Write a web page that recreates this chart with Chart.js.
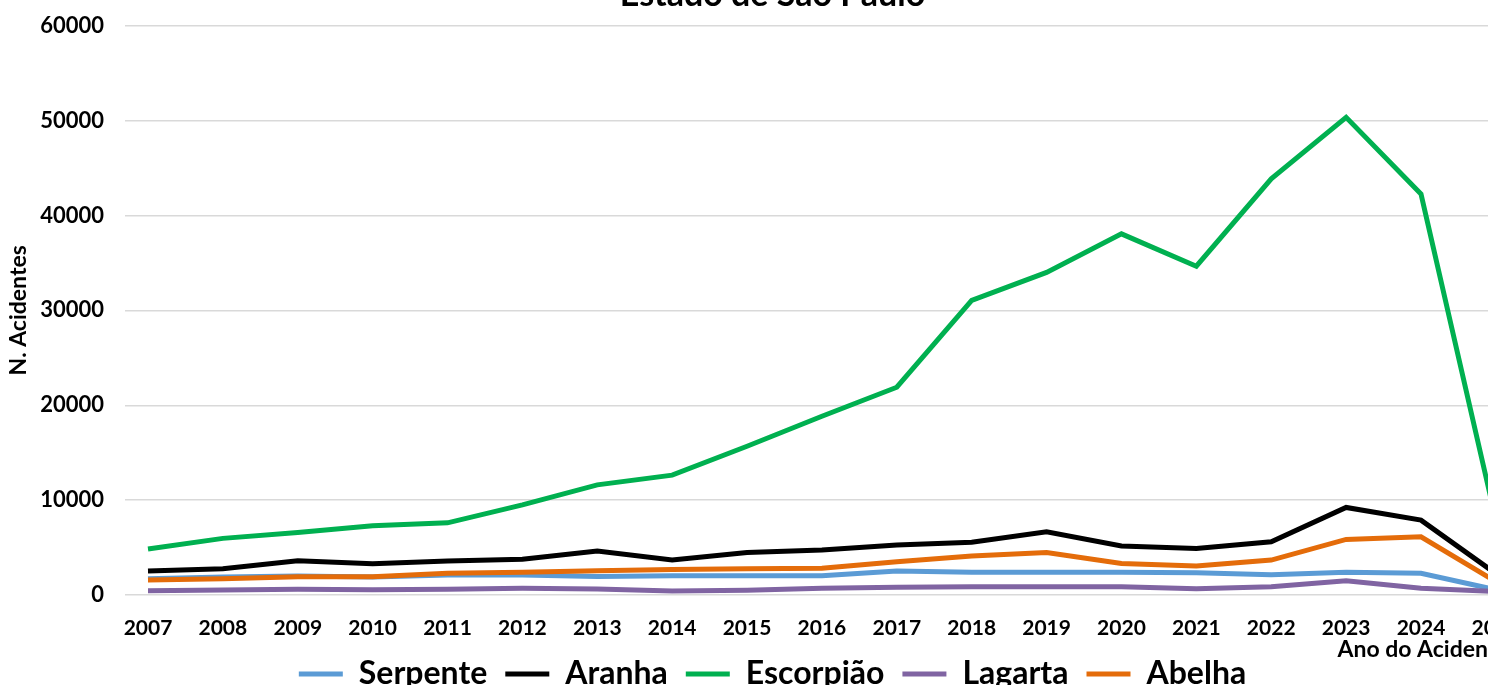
<!DOCTYPE html>
<html>
<head>
<meta charset="utf-8">
<script src="https://cdn.jsdelivr.net/npm/chart.js@4.4.1/dist/chart.umd.min.js"></script>
<style>
  body { margin: 0; overflow: hidden; background: #fff; }
  #wrap { position: absolute; left: 0; top: -30px; width: 1545px; height: 730px; }
</style>
</head>
<body>
<div id="wrap"><canvas id="grafico"></canvas></div>
<script>
// anos (eixo x)
var anos = [2007, 2008, 2009, 2010, 2011, 2012, 2013, 2014, 2015, 2016, 2017, 2018, 2019, 2020, 2021, 2022, 2023, 2024, 2025];

// acidentes por tipo de animal
var serpente  = [1720, 1890, 2000, 1890, 2100, 2100, 1960, 2030, 2030, 2030, 2530, 2390, 2390, 2390, 2350, 2140, 2390, 2280, 550];
var aranha    = [2530, 2770, 3610, 3300, 3580, 3760, 4630, 3680, 4490, 4740, 5260, 5550, 6660, 5160, 4910, 5610, 9230, 7890, 2250];
var escorpiao = [4840, 5970, 6600, 7300, 7610, 9500, 11610, 12630, 15680, 18840, 21900, 31050, 34000, 38070, 34660, 43860, 50350, 42280, 7900];
var lagarta   = [450, 530, 600, 560, 600, 700, 630, 420, 490, 700, 810, 880, 880, 880, 670, 880, 1510, 700, 380];
var abelha    = [1580, 1720, 1930, 1930, 2280, 2390, 2560, 2700, 2770, 2810, 3510, 4100, 4490, 3330, 3050, 3680, 5860, 6140, 1400];

// ticks do eixo y
var yTicks = [0, 10000, 20000, 30000, 40000, 50000, 60000];

var fonte = "Lato, 'Open Sans', sans-serif";

function pontos(valores) {
  return anos.map(function (a, i) { return { x: a, y: valores[i] }; });
}

function serie(nome, valores, cor, ordem) {
  return {
    label: nome,
    data: pontos(valores),
    borderColor: cor,
    backgroundColor: cor,
    borderWidth: 5,
    pointRadius: 0,
    tension: 0,
    order: ordem
  };
}

// titulo do eixo x (embaixo de 2024, como no original)
var tituloX = {
  id: 'tituloX',
  afterDraw: function (chart) {
    var ctx = chart.ctx;
    var sx = chart.scales.x;
    ctx.save();
    ctx.font = "bold 23px " + fonte;
    ctx.fillStyle = '#000';
    ctx.textAlign = 'center';
    ctx.textBaseline = 'middle';
    ctx.fillText('Ano do Acidente', sx.getPixelForValue(2024) + 2, sx.bottom + 10);
    ctx.restore();
  }
};

var ctx = document.getElementById('grafico');
var grafico = new Chart(ctx, {
  type: 'line',
  data: {
    datasets: [
      serie('Serpente', serpente, '#5B9BD5', 5),
      serie('Aranha', aranha, '#000000', 2),
      serie('Escorpião', escorpiao, '#00B050', 3),
      serie('Lagarta', lagarta, '#8064A2', 4),
      serie('Abelha', abelha, '#E46C0A', 1)
    ]
  },
  plugins: [tituloX],
  options: {
    responsive: true,
    maintainAspectRatio: false,
    animation: false,
    layout: { padding: { left: 0, right: 0, top: 0, bottom: 0 } },
    plugins: {
      title: {
        display: true,
        text: 'Estado de São Paulo',
        color: '#000',
        font: { family: fonte, size: 34, weight: 'bold' },
        padding: { top: 5, bottom: 10 }
      },
      legend: {
        position: 'bottom',
        labels: {
          color: '#000',
          font: { family: fonte, size: 32, weight: 'bold' },
          usePointStyle: true,
          pointStyle: 'line',
          pointStyleWidth: 44,
          padding: 18,
          sort: function (a, b) { return a.datasetIndex - b.datasetIndex; }
        }
      },
      tooltip: { enabled: false }
    },
    scales: {
      x: {
        type: 'linear',
        min: 2006.693,
        max: 2025.656,
        afterBuildTicks: function (s) {
          s.ticks = anos.map(function (a) { return { value: a }; });
        },
        afterFit: function (s) { s.height = 45; },
        grid: { display: false, drawTicks: false },
        border: { display: false },
        ticks: {
          color: '#000',
          padding: 21,
          maxRotation: 0,
          font: { family: fonte, size: 21, weight: 'bold' },
          callback: function (v) { return String(v); }
        }
      },
      y: {
        min: 0,
        max: 60000,
        afterBuildTicks: function (s) {
          s.ticks = yTicks.map(function (v) { return { value: v }; });
        },
        afterFit: function (s) { s.width = 125; },
        grid: { color: '#d9d9d9', lineWidth: 1.5, drawTicks: false },
        border: { display: false },
        ticks: {
          color: '#000',
          padding: 21,
          font: { family: fonte, size: 22, weight: 'bold' },
          callback: function (v) { return String(v); }
        },
        title: {
          display: true,
          text: 'N. Acidentes',
          color: '#000',
          font: { family: fonte, size: 23, weight: 'bold' },
          padding: { top: 5, bottom: 0 }
        }
      }
    }
  }
});
</script>
</body>
</html>
